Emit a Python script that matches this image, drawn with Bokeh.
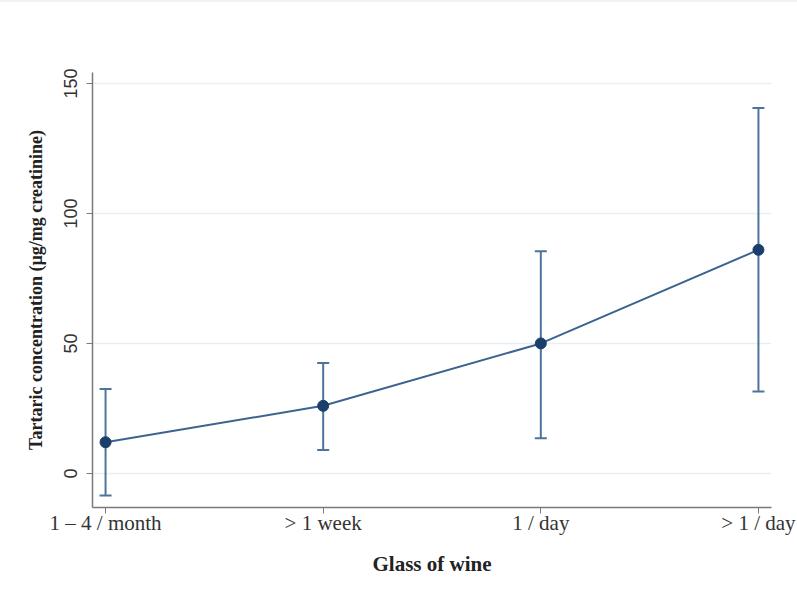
import math
from bokeh.plotting import figure
from bokeh.models import ColumnDataSource, Whisker, FixedTicker, TeeHead, Range1d
from bokeh.embed import file_html
from bokeh.resources import INLINE

categories = ["1 – 4 / month", "> 1 week", "1 / day", "> 1 / day"]
means = [12, 26, 50, 86]
lower = [-8.5, 9, 13.5, 31.5]
upper = [32.5, 42.5, 85.5, 140.5]
y_ticks = [0, 50, 100, 150]

xs = list(range(len(categories)))
src = ColumnDataSource(dict(x=xs, m=means, lo=lower, hi=upper))

p = figure(width=797, height=592, output_backend="svg", toolbar_location=None,
           x_range=Range1d(-0.06, 3.06), y_range=Range1d(-13.1, 154.2),
           min_border_left=92, min_border_right=26, min_border_top=70, min_border_bottom=87)
p.outline_line_color = None
p.background_fill_color = "white"
p.border_fill_color = "white"
p.styles = {"border-top": "2px solid #eef3f4"}

p.xgrid.visible = False
p.ygrid.grid_line_color = "#e6eff2"
p.ygrid.grid_line_width = 1.5

w = Whisker(source=src, base="x", upper="hi", lower="lo", dimension="height",
            line_color="#4d749d", line_width=2)
w.upper_head = TeeHead(size=12, line_color="#4d749d", line_width=2)
w.lower_head = TeeHead(size=12, line_color="#4d749d", line_width=2)
p.add_layout(w)

p.line("x", "m", source=src, line_color="#3d6390", line_width=2)
p.scatter("x", "m", source=src, size=11, fill_color="#1b3f6b", line_color="#1b3f6b")

# axes
p.xaxis.ticker = FixedTicker(ticks=xs)
p.xaxis.major_label_overrides = {i: c for i, c in enumerate(categories)}
p.xaxis.minor_tick_line_color = None
p.xaxis.major_tick_out = 6
p.xaxis.major_tick_in = 0
p.xaxis.axis_line_color = "#7a7a7a"
p.xaxis.axis_line_width = 1.5
p.xaxis.major_tick_line_color = "#7a7a7a"
p.xaxis.major_label_text_font = "Liberation Serif"
p.xaxis.major_label_text_font_size = "21px"
p.xaxis.major_label_text_color = "#333333"
p.xaxis.major_label_standoff = -3
p.xaxis.axis_label = "Glass of wine"
p.xaxis.axis_label_text_font = "Liberation Serif"
p.xaxis.axis_label_text_font_style = "bold"
p.xaxis.axis_label_text_font_size = "21px"
p.xaxis.axis_label_text_color = "#222222"
p.xaxis.axis_label_standoff = 14

p.yaxis.ticker = FixedTicker(ticks=y_ticks)
p.yaxis.minor_tick_line_color = None
p.yaxis.major_tick_out = 6
p.yaxis.major_tick_in = 0
p.yaxis.axis_line_color = "#7a7a7a"
p.yaxis.axis_line_width = 1.5
p.yaxis.major_tick_line_color = "#7a7a7a"
p.yaxis.major_label_orientation = "vertical"
p.yaxis.major_label_text_font = "Liberation Sans"
p.yaxis.major_label_text_font_size = "18px"
p.yaxis.major_label_text_color = "#333333"
p.yaxis.major_label_standoff = 9
p.yaxis.axis_label = "Tartaric concentration (µg/mg creatinine)"
p.yaxis.axis_label_text_font = "Liberation Serif"
p.yaxis.axis_label_text_font_style = "bold"
p.yaxis.axis_label_text_font_size = "18px"
p.yaxis.axis_label_text_color = "#222222"
p.yaxis.axis_label_standoff = 16

open("out.html", "w").write(file_html(p, INLINE))
